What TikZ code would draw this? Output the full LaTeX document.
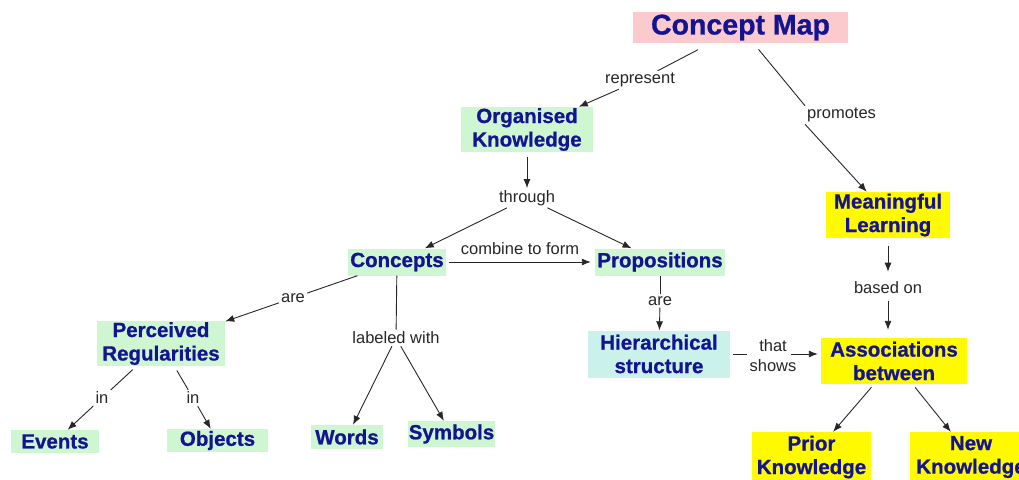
\documentclass[tikz,border=0pt]{standalone}
\usepackage{fontspec}
\setmainfont{Liberation Sans}
% heavier face for the concept boxes
\newfontfamily\heavyface[BoldFeatures={FakeBold=0.9}]{Liberation Sans}
\usetikzlibrary{arrows.meta}
\definecolor{conceptblue}{RGB}{20,20,145}
\definecolor{titlepink}{RGB}{250,202,205}
\definecolor{mintgreen}{RGB}{206,246,208}
\definecolor{paleteal}{RGB}{202,241,234}
\definecolor{brightyellow}{RGB}{255,250,0}
\begin{document}
\begin{tikzpicture}[x=1pt,y=-1pt,
  concept/.style={fill=#1, text=conceptblue, inner sep=0pt, align=center,
    font=\fontsize{20.5}{23.5}\selectfont\heavyface\bfseries},
  size/.style n args={2}{minimum width=#1pt, minimum height=#2pt},
  link/.style={font=\fontsize{16.5}{20}\selectfont, text=black!85, inner sep=2pt, align=center},
  ln/.style={line width=0.9pt, black!85},
  arr/.style={ln, -{Latex[length=9pt,width=7pt]}}]
\useasboundingbox (0,0) rectangle (1019,479);
\clip (0,0) rectangle (1019,479);

% concept boxes
\node[concept=titlepink, size={215}{31}, font=\fontsize{28.5}{32}\selectfont\heavyface\bfseries]
  (cmap) at (740.5,27.5) {Concept Map};
\node[concept=mintgreen, size={132}{45}] (org) at (527,129.5) {Organised\\Knowledge};
\node[concept=brightyellow, size={124}{46}] (meaning) at (888,215) {Meaningful\\Learning};
\node[concept=mintgreen, size={98}{27}] (concepts) at (397,262) {Concepts};
\node[concept=mintgreen, size={130}{27}] (props) at (660,262) {Propositions};
\node[concept=paleteal, size={142}{47}] (hier) at (659,354) {Hierarchical\\structure};
\node[concept=brightyellow, size={146}{46}] (assoc) at (894,361) {Associations\\between};
\node[concept=brightyellow, size={119}{50}] (prior) at (811.5,457) {Prior\\Knowledge};
\node[concept=brightyellow, size={122}{50}] (new) at (971,457) {New\\Knowledge};
\node[concept=mintgreen, size={128}{45}] (perc) at (161,343.5) {Perceived\\Regularities};
\node[concept=mintgreen, size={88}{23}] (events) at (55,441.5) {Events};
\node[concept=mintgreen, size={101}{23}] (objects) at (217.5,440.5) {Objects};
\node[concept=mintgreen, size={72}{24}] (words) at (347,437) {Words};
\node[concept=mintgreen, size={87}{26}] (symbols) at (451.5,434) {Symbols};

% linking phrases
\node[link] (rep) at (640,80) {represent};
\node[link, anchor=west] (prom) at (805,115) {promotes};
\node[link] (through) at (527,198) {through};
\node[link] (combine) at (520,249) {combine to form};
\node[link] (are1) at (293,298) {are};
\node[link] (lab) at (396,338) {labeled with};
\node[link] (are2) at (660,301) {are};
\node[link] (shows) at (773,356) {that\\shows};
\node[link] (based) at (888,288) {based on};
\node[link] (in1) at (102,398) {in};
\node[link] (in2) at (193,398) {in};

% connectors
\draw[ln, shorten <=14pt] (cmap) -- (rep);
\draw[arr] (rep) -- (org);
\draw[ln, shorten <=8pt] (cmap) -- (prom.north west);
\draw[arr] (prom.south west) -- (meaning);
\draw[arr, shorten <=5pt] (org) -- (through);
\draw[arr] (through) -- (concepts);
\draw[arr] (through) -- (props);
\draw[arr, shorten <=3pt, shorten >=4pt] (concepts) -- (props);
\draw[ln] (concepts) -- (are1);
\draw[arr] (are1) -- (perc);
\draw[ln] (concepts) -- (lab);
\draw[arr] (lab) -- (words);
\draw[arr] (lab) -- (symbols);
\draw[ln] (props) -- (are2);
\draw[arr] (are2) -- (hier);
\draw[ln, shorten <=3pt] (hier.east) -- (shows.west |- hier.east);
\draw[arr, shorten <=-8pt, shorten >=3pt] (shows.east |- hier.east) -- (assoc.west |- hier.east);
\draw[arr, shorten <=8pt, shorten >=8pt] (meaning) -- (based);
\draw[arr, shorten <=5pt, shorten >=8pt] (based.south) -- (based.south |- assoc.north);
\draw[arr, shorten <=4pt] (assoc) -- (prior);
\draw[arr, shorten <=4pt] (assoc) -- (new);
\draw[ln, shorten <=5pt] (perc) -- (in1);
\draw[arr] (in1) -- (events);
\draw[ln, shorten <=5pt] (perc) -- (in2);
\draw[arr] (in2) -- (objects);
\end{tikzpicture}
\end{document}
